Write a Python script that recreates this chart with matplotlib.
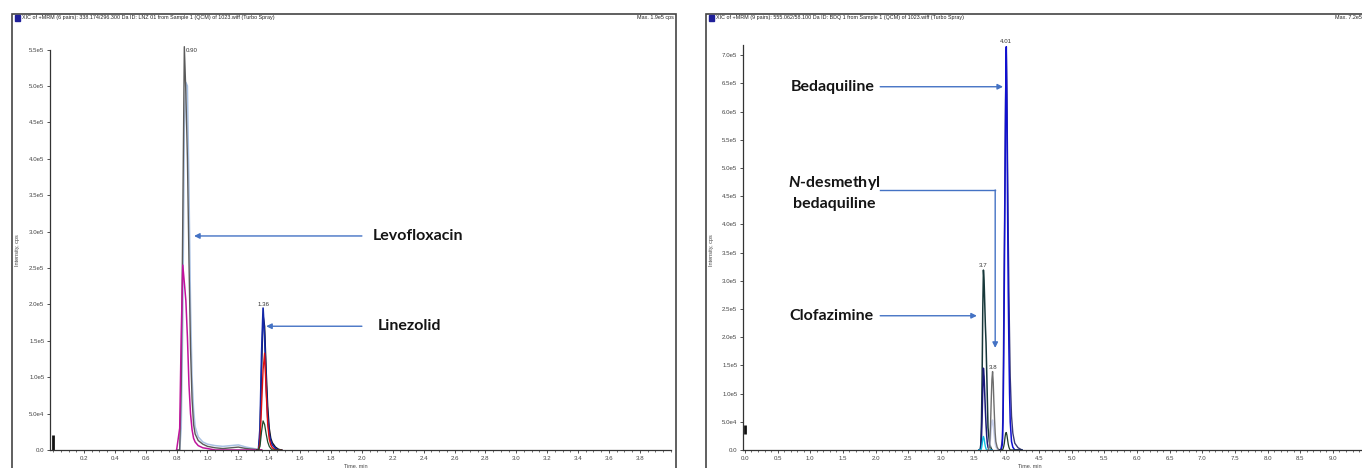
import matplotlib
matplotlib.use("Agg")
import matplotlib.pyplot as plt
from matplotlib.patches import Rectangle
from matplotlib.ticker import MultipleLocator, FixedLocator

plt.rcParams['font.family'] = ['Liberation Sans', 'DejaVu Sans']
plt.rcParams['mathtext.fontset'] = 'custom'
plt.rcParams['mathtext.it'] = 'Lato:italic:bold'
plt.rcParams['mathtext.rm'] = 'Lato:bold'

W, H = 1362, 468

# ---- left chromatogram: LNZ / levofloxacin ----
levo_t = [0.80, 0.82, 0.83, 0.84, 0.85, 0.86, 0.87, 0.88, 0.89, 0.90, 0.91,
          0.92, 0.94, 0.97, 1.00, 1.05, 1.10, 1.20, 1.25, 1.30, 1.35]
levo_grey = [0, 0, 9e4, 3.2e5, 5.54e5, 4.9e5, 4.0e5, 2.6e5, 1.4e5, 7e4, 3.5e4,
             2.2e4, 1.3e4, 8e3, 5e3, 3e3, 2e3, 4e3, 2e3, 1e3, 0]
levo_blue = [0, 0, 3e4, 1.8e5, 4.4e5, 5.05e5, 5.0e5, 3.6e5, 2.0e5, 1.0e5, 5.5e4,
             3.2e4, 1.8e4, 1.1e4, 8e3, 6e3, 5e3, 7e3, 4e3, 2e3, 0]
levo_mag = [0, 3e4, 1.6e5, 2.54e5, 2.3e5, 2.05e5, 1.55e5, 9e4, 5e4, 2.8e4, 1.6e4,
            1.1e4, 6e3, 3e3, 2e3, 0, 0, 0, 0, 0, 0]

lzd_t = [1.32, 1.33, 1.34, 1.35, 1.36, 1.37, 1.38, 1.39, 1.40, 1.41, 1.42, 1.44, 1.46, 1.48]
lzd_black = [0, 0, 2e4, 1.1e5, 1.85e5, 1.7e5, 1.1e5, 6e4, 3e4, 1.6e4, 1e4, 4e3, 1e3, 0]
lzd_blue = [0, 0, 3e4, 1.3e5, 1.95e5, 1.55e5, 9e4, 4.5e4, 2.2e4, 1.2e4, 7e3, 2e3, 0, 0]
lzd_red = [0, 0, 1e4, 6e4, 1.1e5, 1.33e5, 8e4, 3.5e4, 1.5e4, 7e3, 3e3, 0, 0, 0]
lzd_green = [0, 0, 5e3, 2.5e4, 4e4, 3.5e4, 2.2e4, 1.1e4, 5e3, 2e3, 0, 0, 0, 0]

left_start = [0, 2e4]

# ---- right chromatogram: BDQ / clofazimine ----
cfz_t = [3.58, 3.60, 3.61, 3.62, 3.63, 3.64, 3.65, 3.66, 3.67, 3.68, 3.69,
         3.70, 3.71, 3.72, 3.74, 3.76, 3.78]
cfz_dark = [0, 0, 1e4, 5e4, 1.3e5, 2.5e5, 3.19e5, 3.0e5, 2.6e5, 2.2e5, 1.9e5,
            1.4e5, 9e4, 4e4, 1.5e4, 5e3, 0]
cfz_navy = [0, 0, 5e3, 2e4, 6e4, 1.1e5, 1.45e5, 1.3e5, 1.0e5, 7e4, 4.5e4,
            2.5e4, 1.2e4, 5e3, 0, 0, 0]
cfz_cyan = [0, 0, 0, 3e3, 1e4, 2e4, 2.4e4, 2e4, 1.2e4, 6e3, 2e3, 0, 0, 0, 0, 0, 0]

nbdq_t = [3.72, 3.74, 3.75, 3.76, 3.77, 3.78, 3.79, 3.80, 3.81, 3.82, 3.83,
          3.84, 3.86, 3.88, 3.90]
nbdq_grey = [0, 5e3, 2e4, 5e4, 9e4, 1.25e5, 1.39e5, 1.2e5, 8.5e4, 5.5e4, 3e4,
             1.5e4, 5e3, 1e3, 0]
nbdq_lav = [0, 3e3, 1e4, 2.5e4, 4e4, 5e4, 5.3e4, 4.6e4, 3.4e4, 2.2e4, 1.2e4,
            6e3, 2e3, 0, 0]

bdq_t = [3.90, 3.92, 3.94, 3.95, 3.96, 3.97, 3.98, 3.99, 4.00, 4.01, 4.02,
         4.03, 4.04, 4.05, 4.06, 4.08, 4.10, 4.13, 4.18, 4.24]
bdq_slate = [0, 2e3, 2e4, 8e4, 2.2e5, 3.6e5, 5.0e5, 6.4e5, 7.1e5, 6.3e5, 5.0e5,
             3.8e5, 2.8e5, 2.0e5, 1.3e5, 6e4, 3e4, 1.2e4, 4e3, 0]
bdq_blue = [0, 0, 1e4, 5e4, 1.5e5, 3e5, 4.6e5, 6.2e5, 7.15e5, 5.9e5, 4.2e5,
            2.8e5, 1.8e5, 1.0e5, 5e4, 1.5e4, 5e3, 0, 0, 0]
bdq_small = [0, 0, 0, 2e3, 6e3, 1.2e4, 2.2e4, 3e4, 3.1e4, 2.6e4, 1.8e4,
             1e4, 5e3, 2e3, 0, 0, 0, 0, 0, 0]

right_start = [2.8e4, 4.4e4]

left_ticks = [0.2, 0.4, 0.6, 0.8, 1.0, 1.2, 1.4, 1.6, 1.8, 2.0, 2.2, 2.4, 2.6,
              2.8, 3.0, 3.2, 3.4, 3.6, 3.8]
left_yticks = [0, 5e4, 1e5, 1.5e5, 2e5, 2.5e5, 3e5, 3.5e5, 4e5, 4.5e5, 5e5, 5.5e5]
left_ylabels = ["0.0", "5.0e4", "1.0e5", "1.5e5", "2.0e5", "2.5e5", "3.0e5",
                "3.5e5", "4.0e5", "4.5e5", "5.0e5", "5.5e5"]
right_ticks = [0.0, 0.5, 1.0, 1.5, 2.0, 2.5, 3.0, 3.5, 4.0, 4.5, 5.0, 5.5, 6.0,
               6.5, 7.0, 7.5, 8.0, 8.5, 9.0, 9.5]
right_yticks = [0, 5e4, 1e5, 1.5e5, 2e5, 2.5e5, 3e5, 3.5e5, 4e5, 4.5e5, 5e5,
                5.5e5, 6e5, 6.5e5, 7e5]
right_ylabels = ["0.0", "5.0e4", "1.0e5", "1.5e5", "2.0e5", "2.5e5", "3.0e5",
                 "3.5e5", "4.0e5", "4.5e5", "5.0e5", "5.5e5", "6.0e5", "6.5e5", "7.0e5"]

arrow_col = '#4472c4'
ink = '#333333'


def fx(px):
    return px / W


def fy(py):
    return 1 - py / H


def style_axes(ax, xticks, yticks, ylabels, minor):
    for s in ('top', 'right'):
        ax.spines[s].set_visible(False)
    for s in ('left', 'bottom'):
        ax.spines[s].set_color(ink)
        ax.spines[s].set_linewidth(0.9)
    ax.xaxis.set_major_locator(FixedLocator(xticks))
    ax.set_xticklabels(["%.1f" % v for v in xticks])
    ax.xaxis.set_minor_locator(MultipleLocator(minor))
    ax.set_yticks(yticks)
    ax.set_yticklabels(ylabels)
    ax.tick_params(which='major', labelsize=4.4, length=2.5, width=0.6,
                   pad=1.5, colors=ink, labelcolor='#444444')
    ax.tick_params(which='minor', length=1.5, width=0.5, colors=ink)
    ax.patch.set_alpha(0)


fig = plt.figure(figsize=(W / 100, H / 100), dpi=100)

# outer panel frames
fig.patches.append(Rectangle((fx(12), -0.05), fx(676) - fx(12), fy(14) + 0.05,
                             transform=fig.transFigure, fill=False,
                             edgecolor='#444444', linewidth=1.2))
fig.patches.append(Rectangle((fx(706), -0.05), fx(1380) - fx(706), fy(14) + 0.05,
                             transform=fig.transFigure, fill=False,
                             edgecolor='#444444', linewidth=1.2))
for x0 in (15, 709):
    fig.patches.append(Rectangle((fx(x0), fy(21)), fx(5), 6 / H,
                                 transform=fig.transFigure, color='#1f1f99'))

fig.text(fx(22), fy(18), "XIC of +MRM (6 pairs): 338.174/296.300 Da ID: LNZ 01 from "
         "Sample 1 (QCM) of 1023.wiff (Turbo Spray)", fontsize=3.9, va='center', color='#222222')
fig.text(fx(674), fy(18), "Max. 1.9e5 cps", fontsize=3.9, va='center', ha='right', color='#222222')
fig.text(fx(716), fy(18), "XIC of +MRM (9 pairs): 555.062/58.100 Da ID: BDQ 1 from "
         "Sample 1 (QCM) of 1023.wiff (Turbo Spray)", fontsize=3.9, va='center', color='#222222')
fig.text(fx(1372), fy(18), "Max. 7.2e5 cps", fontsize=3.9, va='center', ha='right', color='#222222')

# ---- left axes ----
axL = fig.add_axes([fx(50), fy(450), 620.7 / W, 400.4 / H])
axL.set_xlim(-0.02, 4.0)
axL.set_ylim(0, 5.5e5)
style_axes(axL, left_ticks, left_yticks, left_ylabels, 0.05)
axL.plot(levo_t, levo_blue, color='#a9c1e3', lw=1.1, clip_on=False)
axL.plot(levo_t, levo_grey, color='#5a5a5a', lw=1.0, clip_on=False)
axL.plot(levo_t, levo_mag, color='#c0149c', lw=1.1)
axL.plot(lzd_t, lzd_black, color='#111111', lw=1.0)
axL.plot(lzd_t, lzd_blue, color='#1428a8', lw=1.2)
axL.plot(lzd_t, lzd_red, color='#e01010', lw=1.0)
axL.plot(lzd_t, lzd_green, color='#1e4a2a', lw=0.9)
axL.plot([0.0, 0.0], left_start, color='#111111', lw=2.0, solid_capstyle='butt')

axL.text(0.856, 5.45e5, "0.90", fontsize=4.4, color='#333333', ha='left', va='bottom')
axL.text(1.362, 1.97e5, "1.36", fontsize=4.4, color='#333333', ha='center', va='bottom')

label_kw = dict(fontsize=11.5, fontfamily='Lato', fontweight='bold', color='#151515', va='center')
arrow_kw = dict(arrowstyle='-|>', color=arrow_col, lw=1.0, mutation_scale=8,
                shrinkA=0, shrinkB=0)
axL.annotate('', xy=(0.913, 2.94e5), xytext=(2.0, 2.94e5), arrowprops=arrow_kw)
axL.text(2.07, 2.94e5, "Levofloxacin", **label_kw)
axL.annotate('', xy=(1.38, 1.70e5), xytext=(2.0, 1.70e5), arrowprops=arrow_kw)
axL.text(2.105, 1.70e5, "Linezolid", **label_kw)

fig.text(fx(18), fy(250), "Intensity, cps", rotation=90, fontsize=4.0,
         ha='center', va='center', color='#444444')
fig.text(fx(356), fy(466), "Time, min", fontsize=4.0, ha='center', va='center', color='#444444')

# ---- right axes ----
axR = fig.add_axes([fx(743), fy(450), 635.7 / W, 405 / H])
axR.set_xlim(-0.03, 9.7)
axR.set_ylim(0, 7.18e5)
style_axes(axR, right_ticks, right_yticks, right_ylabels, 0.1)
axR.plot(cfz_t, cfz_dark, color='#17383a', lw=1.1)
axR.plot(cfz_t, cfz_navy, color='#1a1a7a', lw=1.1)
axR.plot(cfz_t, cfz_cyan, color='#10c0e0', lw=1.0)
axR.plot(nbdq_t, nbdq_lav, color='#c8d0ec', lw=1.2)
axR.plot(nbdq_t, nbdq_grey, color='#6e6e6e', lw=1.0)
axR.plot(bdq_t, bdq_slate, color='#3a3a78', lw=1.0, clip_on=False)
axR.plot(bdq_t, bdq_blue, color='#1010d0', lw=1.1, clip_on=False)
axR.plot(bdq_t, bdq_small, color='#1e3a26', lw=0.9)
axR.plot([0.0, 0.0], right_start, color='#111111', lw=2.0, solid_capstyle='butt')

axR.text(4.0, 7.2e5, "4.01", fontsize=4.4, color='#333333', ha='center', va='bottom')
axR.text(3.65, 3.22e5, "3.7", fontsize=4.4, color='#333333', ha='center', va='bottom')
axR.text(3.79, 1.42e5, "3.8", fontsize=4.4, color='#333333', ha='center', va='bottom')

axR.annotate('', xy=(3.95, 6.44e5), xytext=(2.07, 6.44e5), arrowprops=arrow_kw)
axR.text(1.99, 6.44e5, "Bedaquiline", ha='right', **label_kw)
axR.plot([2.07, 3.83], [4.61e5, 4.61e5], color=arrow_col, lw=1.0)
axR.annotate('', xy=(3.83, 1.81e5), xytext=(3.83, 4.61e5), arrowprops=arrow_kw)
axR.text(1.36, 4.74e5, r"$N$-desmethyl", ha='center', **label_kw)
axR.text(1.36, 4.37e5, "bedaquiline", ha='center', **label_kw)
axR.annotate('', xy=(3.55, 2.38e5), xytext=(2.07, 2.38e5), arrowprops=arrow_kw)
axR.text(1.97, 2.38e5, "Clofazimine", ha='right', **label_kw)

fig.text(fx(712), fy(250), "Intensity, cps", rotation=90, fontsize=4.0,
         ha='center', va='center', color='#444444')
fig.text(fx(1030), fy(466), "Time, min", fontsize=4.0, ha='center', va='center', color='#444444')

fig.savefig("out.png", dpi=100)
